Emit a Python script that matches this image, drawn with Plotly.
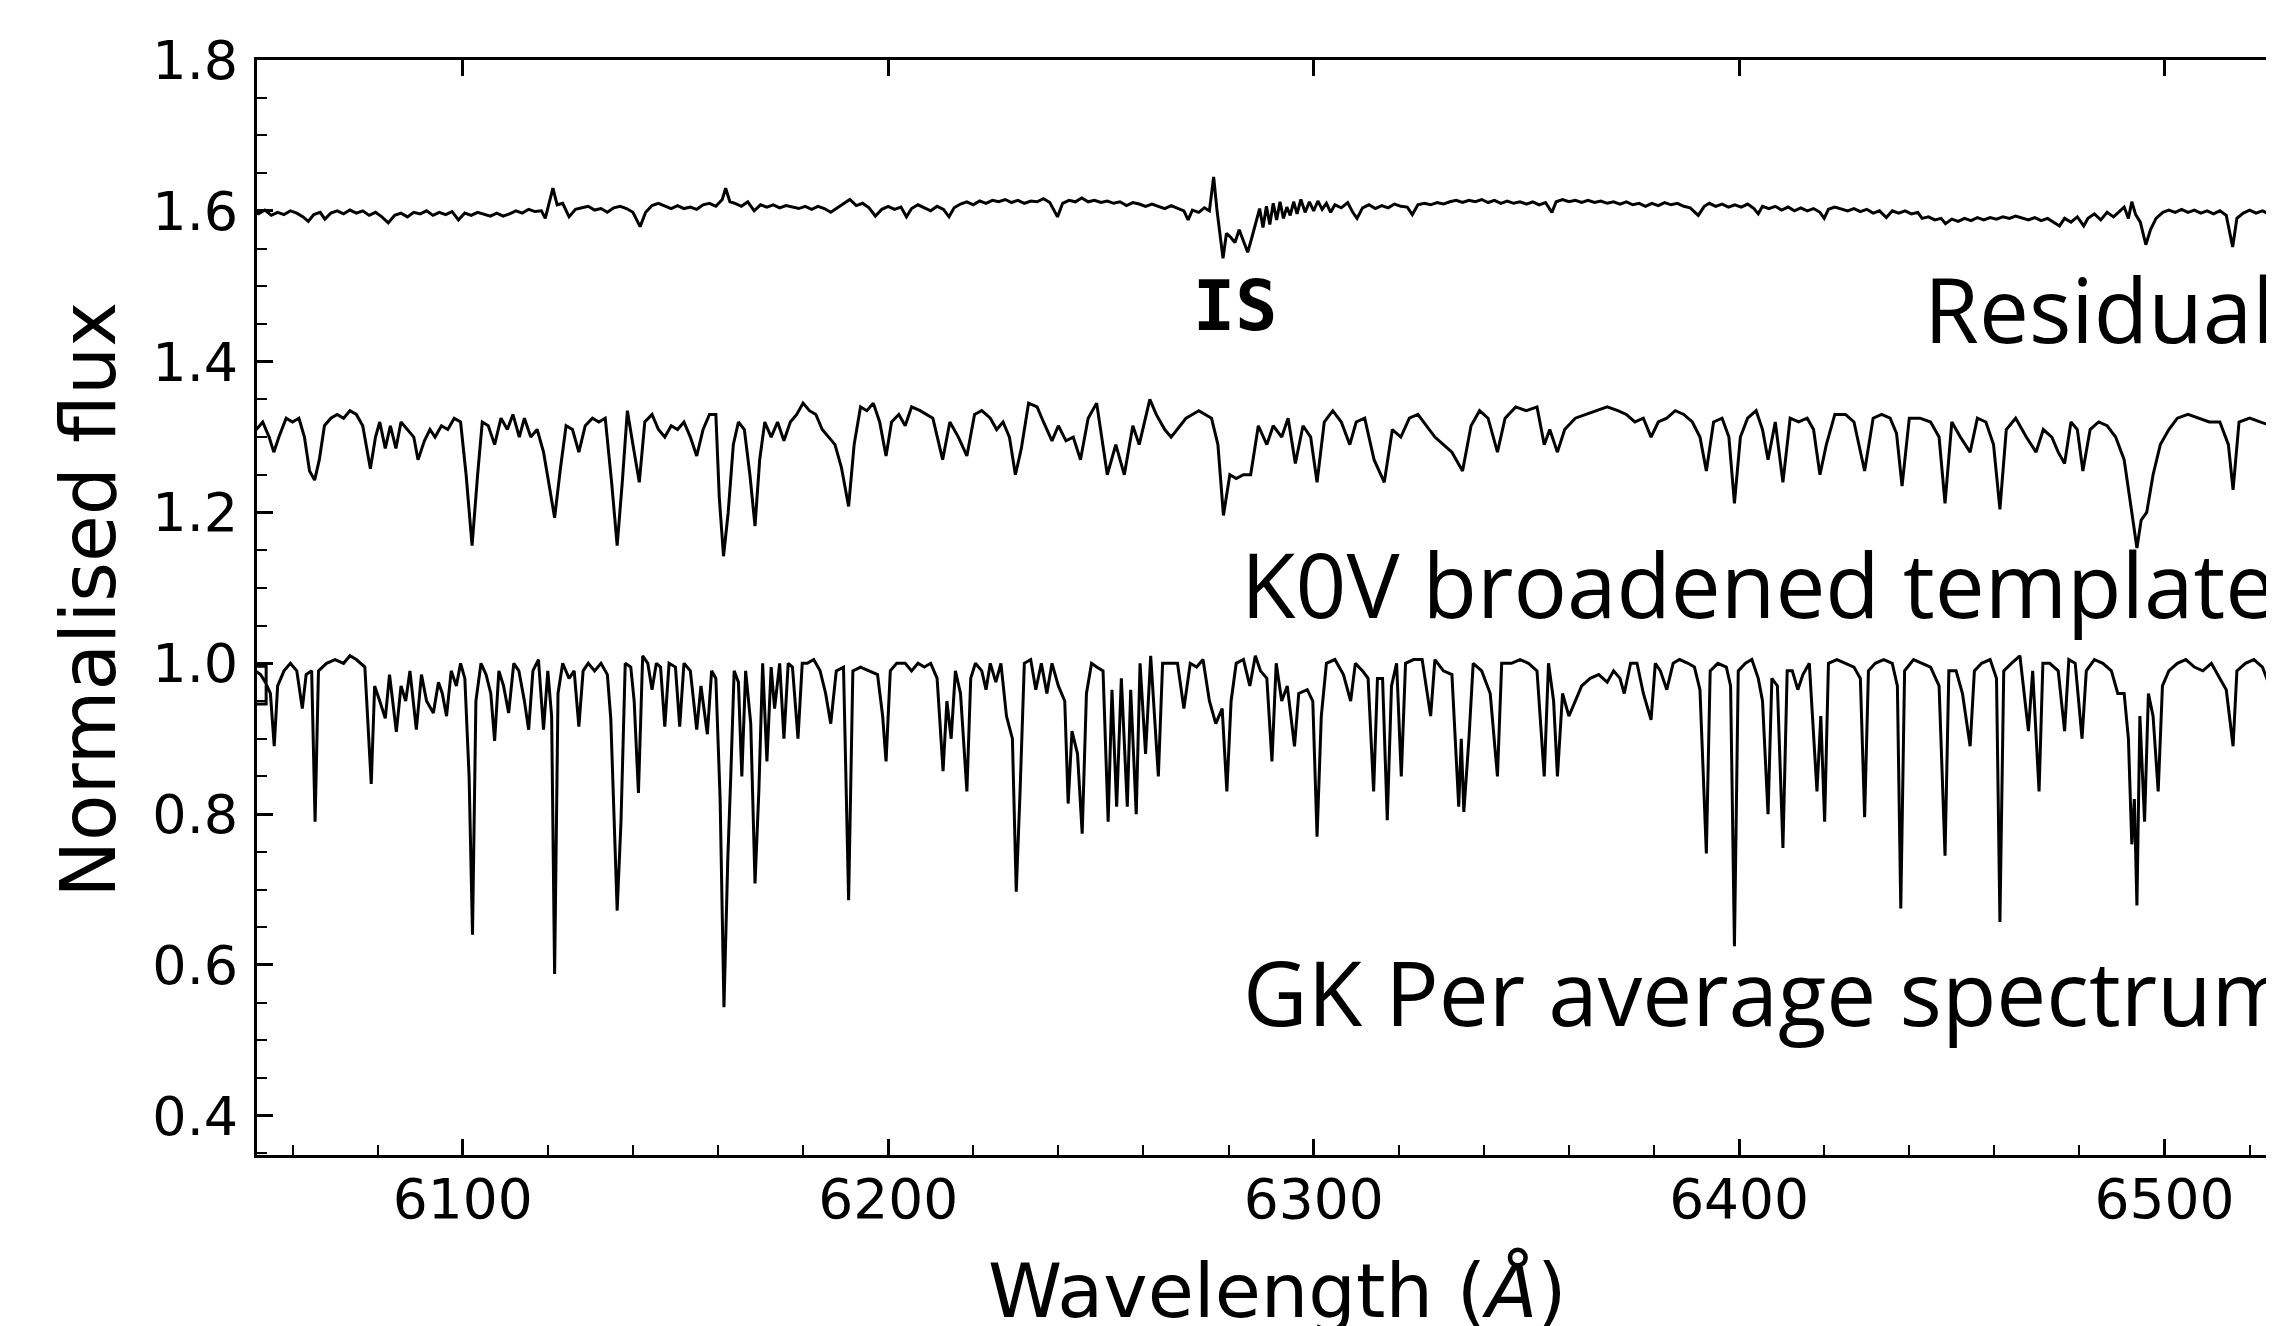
import plotly.graph_objects as go

# ---- data (wavelength in Angstrom, normalised flux) ----
residual_pts = [
    (6050.5, 1.600), (6052, 1.596), (6053.5, 1.601), (6055, 1.594), (6056.5, 1.598), (6058, 1.595),
    (6059.5, 1.600), (6061, 1.597), (6062.5, 1.592), (6063.7, 1.586), (6065, 1.595), (6066.5, 1.598),
    (6067.6, 1.589), (6069, 1.597), (6070.5, 1.600), (6072, 1.596), (6073.5, 1.601), (6075, 1.597),
    (6076.5, 1.600), (6078, 1.594), (6079.5, 1.598), (6081, 1.592), (6082.5, 1.584), (6084, 1.594),
    (6085.5, 1.597), (6087, 1.592), (6088.5, 1.598), (6090, 1.596), (6091.5, 1.600), (6093, 1.594),
    (6094.5, 1.598), (6096, 1.595), (6097.5, 1.599), (6099, 1.588), (6100.5, 1.597), (6102, 1.594),
    (6103.5, 1.598), (6105, 1.595), (6106.5, 1.593), (6108, 1.597), (6109.5, 1.593), (6111, 1.596),
    (6112.5, 1.600), (6114, 1.597), (6115.5, 1.602), (6117, 1.599), (6118.5, 1.600), (6119.4, 1.590),
    (6120.3, 1.610), (6121.2, 1.630), (6122.2, 1.608), (6123.5, 1.610), (6125, 1.592), (6126.5, 1.602),
    (6128, 1.604), (6129.5, 1.606), (6131, 1.601), (6132.5, 1.603), (6134, 1.598), (6135.5, 1.604),
    (6137, 1.606), (6138.5, 1.603), (6140, 1.598), (6141.7, 1.579), (6143, 1.598), (6144.5, 1.607),
    (6146, 1.610), (6147.5, 1.606), (6149, 1.603), (6150.5, 1.607), (6152, 1.603), (6153.5, 1.605),
    (6155, 1.602), (6156.5, 1.608), (6158, 1.610), (6159.5, 1.606), (6161, 1.615), (6161.8, 1.630),
    (6162.8, 1.612), (6164, 1.610), (6165.5, 1.606), (6167, 1.612), (6168.5, 1.600), (6170, 1.608),
    (6171.5, 1.605), (6173, 1.608), (6174.5, 1.604), (6176, 1.607), (6177.5, 1.605), (6179, 1.603),
    (6180.5, 1.606), (6182, 1.602), (6183.5, 1.606), (6185, 1.603), (6186.5, 1.598), (6188, 1.604),
    (6189.5, 1.609), (6191, 1.615), (6192.5, 1.607), (6194, 1.610), (6195.5, 1.604), (6197, 1.593),
    (6198.5, 1.602), (6200, 1.606), (6201.5, 1.602), (6203, 1.605), (6204.3, 1.592), (6205.5, 1.603),
    (6207, 1.608), (6208.5, 1.604), (6210, 1.600), (6211.5, 1.606), (6213, 1.602), (6214.3, 1.592),
    (6215.5, 1.604), (6217, 1.609), (6218.5, 1.612), (6220, 1.608), (6221.5, 1.613), (6223, 1.610),
    (6224.5, 1.614), (6226, 1.612), (6227.5, 1.615), (6229, 1.611), (6230.5, 1.614), (6232, 1.610),
    (6233.5, 1.613), (6235, 1.612), (6236.5, 1.616), (6238, 1.611), (6239.8, 1.592), (6241, 1.610),
    (6242.5, 1.614), (6244, 1.612), (6245.5, 1.617), (6247, 1.612), (6248.5, 1.614), (6250, 1.611),
    (6251.5, 1.613), (6253, 1.610), (6254.5, 1.612), (6256, 1.607), (6257.5, 1.611), (6259, 1.609),
    (6260.5, 1.606), (6262, 1.609), (6263.5, 1.606), (6265, 1.603), (6266.5, 1.607), (6268, 1.604),
    (6269.5, 1.600), (6270.5, 1.588), (6271.5, 1.601), (6273, 1.598), (6274.3, 1.604), (6275.5, 1.600),
    (6276.5, 1.645), (6277.3, 1.600), (6278.1, 1.560), (6278.7, 1.537), (6279.5, 1.570), (6280.5, 1.565),
    (6281.5, 1.558), (6282.5, 1.575), (6283.5, 1.560), (6284.5, 1.545), (6285.5, 1.565), (6286.5, 1.585),
    (6287.3, 1.603), (6288.1, 1.578), (6288.9, 1.606), (6289.7, 1.582), (6290.5, 1.610), (6291.3, 1.588),
    (6292.1, 1.612), (6292.9, 1.590), (6293.7, 1.605), (6294.5, 1.594), (6295.3, 1.612), (6296.1, 1.596),
    (6297, 1.615), (6298, 1.598), (6299, 1.612), (6300, 1.600), (6301, 1.613), (6302, 1.602),
    (6303, 1.610), (6304, 1.598), (6305, 1.608), (6306.5, 1.604), (6308, 1.611), (6309.2, 1.598),
    (6310.2, 1.590), (6311.5, 1.604), (6313, 1.608), (6314.5, 1.603), (6316, 1.607), (6317.5, 1.604),
    (6319, 1.609), (6320.5, 1.606), (6322, 1.605), (6323.2, 1.595), (6324.5, 1.608), (6326, 1.610),
    (6327.5, 1.608), (6329, 1.611), (6330.5, 1.609), (6332, 1.612), (6333.5, 1.614), (6335, 1.611),
    (6336.5, 1.614), (6338, 1.612), (6339.5, 1.615), (6341, 1.611), (6342.5, 1.614), (6344, 1.610),
    (6345.5, 1.613), (6347, 1.610), (6348.5, 1.612), (6350, 1.609), (6351.5, 1.612), (6353, 1.608),
    (6354.5, 1.611), (6356, 1.598), (6357, 1.612), (6358.5, 1.615), (6360, 1.612), (6361.5, 1.614),
    (6363, 1.611), (6364.5, 1.614), (6366, 1.611), (6367.5, 1.613), (6369, 1.610), (6370.5, 1.612),
    (6372, 1.609), (6373.5, 1.612), (6375, 1.608), (6376.5, 1.610), (6378, 1.606), (6379.5, 1.610),
    (6381, 1.607), (6382.5, 1.611), (6384, 1.608), (6385.5, 1.610), (6387, 1.606), (6388.5, 1.604),
    (6390.4, 1.594), (6391.8, 1.606), (6393, 1.610), (6394.5, 1.606), (6396, 1.609), (6397.5, 1.605),
    (6399, 1.608), (6400.5, 1.605), (6402, 1.609), (6403.5, 1.603), (6404.5, 1.596), (6405.5, 1.606),
    (6407, 1.603), (6408.5, 1.606), (6410, 1.601), (6411.5, 1.605), (6413, 1.600), (6414.5, 1.604),
    (6416, 1.600), (6417.5, 1.603), (6419, 1.598), (6420, 1.590), (6421, 1.602), (6422.5, 1.605),
    (6424, 1.603), (6425.5, 1.600), (6427, 1.603), (6428.5, 1.599), (6430, 1.602), (6431.5, 1.597),
    (6433, 1.600), (6434.6, 1.591), (6436, 1.600), (6437.5, 1.597), (6439, 1.600), (6440.5, 1.596),
    (6442, 1.598), (6443, 1.590), (6444.5, 1.592), (6446, 1.588), (6447.5, 1.590), (6448.5, 1.583),
    (6450, 1.589), (6451.5, 1.586), (6453, 1.590), (6454.5, 1.587), (6456, 1.591), (6457.5, 1.588),
    (6459, 1.591), (6460.5, 1.589), (6462, 1.592), (6463.5, 1.590), (6465, 1.593), (6466.5, 1.590),
    (6468, 1.588), (6469.5, 1.591), (6471, 1.587), (6472.5, 1.590), (6474, 1.585), (6475.3, 1.580),
    (6476.5, 1.590), (6478, 1.585), (6479.5, 1.592), (6481, 1.580), (6482, 1.590), (6483.5, 1.596),
    (6485, 1.588), (6486.5, 1.598), (6488, 1.592), (6489.5, 1.600), (6490.5, 1.605), (6491.5, 1.590),
    (6492.3, 1.612), (6493.2, 1.595), (6494.3, 1.585), (6495.6, 1.555), (6496.7, 1.575), (6498, 1.590),
    (6499.6, 1.598), (6501, 1.601), (6502.5, 1.598), (6504, 1.602), (6505.5, 1.598), (6507, 1.601),
    (6508.5, 1.597), (6510, 1.600), (6511.5, 1.596), (6513, 1.600), (6514.5, 1.594), (6516, 1.552),
    (6517, 1.590), (6518.5, 1.597), (6520, 1.601), (6521.5, 1.597), (6523, 1.600), (6524.5, 1.596),
    (6526, 1.599), (6527.5, 1.597),
]

template_pts = [
    (6050, 1.325), (6051.5, 1.31), (6053, 1.32), (6054.5, 1.30), (6055.6, 1.28), (6056.8, 1.30),
    (6058.5, 1.325), (6060, 1.32), (6061.5, 1.325), (6062.8, 1.30), (6064, 1.255), (6065.2, 1.243),
    (6066.3, 1.27), (6067.5, 1.315), (6069, 1.325), (6070.5, 1.33), (6072, 1.325), (6073.5, 1.335),
    (6075, 1.33), (6076.5, 1.315), (6078.3, 1.258), (6079.5, 1.30), (6080.5, 1.32), (6081.8, 1.285),
    (6083, 1.315), (6084.3, 1.285), (6085.5, 1.32), (6087, 1.31), (6088.5, 1.30), (6089.5, 1.27),
    (6091, 1.295), (6092.3, 1.31), (6093.5, 1.30), (6095, 1.315), (6096.5, 1.31), (6098, 1.325),
    (6099.5, 1.32), (6100.8, 1.25), (6102.2, 1.156), (6103.5, 1.25), (6104.6, 1.32), (6106, 1.315),
    (6107.5, 1.29), (6109, 1.325), (6110.5, 1.31), (6111.8, 1.33), (6113.3, 1.30), (6114.5, 1.325),
    (6116, 1.30), (6117.5, 1.31), (6119, 1.28), (6120.2, 1.24), (6121.6, 1.193), (6123, 1.26),
    (6124.3, 1.315), (6125.8, 1.31), (6127.3, 1.28), (6128.8, 1.315), (6130.5, 1.325), (6132, 1.32),
    (6133.5, 1.325), (6135, 1.24), (6136.3, 1.156), (6137.5, 1.24), (6138.7, 1.335), (6140, 1.29),
    (6141.5, 1.24), (6142.8, 1.32), (6144.5, 1.33), (6146, 1.31), (6147.5, 1.30), (6149, 1.315),
    (6150.5, 1.31), (6152, 1.32), (6153.5, 1.30), (6155, 1.275), (6156.5, 1.31), (6158, 1.33),
    (6159.5, 1.33), (6160.3, 1.22), (6161.3, 1.142), (6162.4, 1.20), (6163.6, 1.29), (6164.8, 1.32),
    (6166.2, 1.31), (6167.5, 1.25), (6168.7, 1.182), (6169.8, 1.27), (6171, 1.32), (6172.5, 1.30),
    (6174, 1.32), (6175.5, 1.295), (6177, 1.32), (6178.5, 1.33), (6180, 1.345), (6181.5, 1.335),
    (6183, 1.33), (6184.5, 1.31), (6186, 1.30), (6187.5, 1.29), (6189, 1.26), (6190.7, 1.208),
    (6192, 1.29), (6193.5, 1.34), (6195, 1.335), (6196.5, 1.345), (6198, 1.32), (6199.5, 1.275),
    (6200.8, 1.32), (6202.5, 1.33), (6204, 1.315), (6205.5, 1.34), (6207.5, 1.335), (6209, 1.33),
    (6210.5, 1.325), (6212.8, 1.27), (6214.5, 1.32), (6216.5, 1.30), (6218.5, 1.275), (6220.3, 1.33),
    (6222, 1.335), (6224, 1.325), (6225.5, 1.31), (6227, 1.32), (6228.5, 1.30), (6229.9, 1.25),
    (6231.3, 1.285), (6233, 1.345), (6235, 1.34), (6236.5, 1.32), (6238.5, 1.295), (6240, 1.315),
    (6241.8, 1.295), (6243.5, 1.30), (6245.2, 1.27), (6247, 1.325), (6249, 1.345), (6251.5, 1.25),
    (6253.5, 1.29), (6255.5, 1.25), (6257.5, 1.315), (6259, 1.29), (6261.5, 1.35), (6263, 1.33),
    (6265, 1.31), (6266.5, 1.30), (6268.5, 1.315), (6270, 1.325), (6271.5, 1.33), (6273, 1.335),
    (6274.5, 1.33), (6276, 1.325), (6277.5, 1.29), (6278.8, 1.196), (6280.3, 1.25), (6281.8, 1.245),
    (6283.5, 1.25), (6285.2, 1.25), (6287, 1.315), (6289, 1.29), (6290.5, 1.315), (6292.5, 1.30),
    (6294, 1.325), (6295.7, 1.265), (6297.5, 1.315), (6299.3, 1.30), (6300.8, 1.24), (6302.5, 1.32),
    (6304.5, 1.335), (6306.5, 1.32), (6308.5, 1.29), (6310, 1.32), (6312, 1.325), (6314.2, 1.27),
    (6316.6, 1.24), (6318.5, 1.31), (6320.5, 1.30), (6322.5, 1.325), (6324.5, 1.33), (6326.5, 1.315),
    (6328.5, 1.30), (6330.5, 1.29), (6332.5, 1.28), (6335, 1.255), (6337, 1.315), (6339, 1.335),
    (6341, 1.325), (6343.2, 1.28), (6345, 1.325), (6347.5, 1.34), (6350, 1.335), (6352.5, 1.34),
    (6354.2, 1.29), (6355.5, 1.31), (6357.3, 1.28), (6359, 1.31), (6361.5, 1.325), (6364, 1.33),
    (6366.5, 1.335), (6369, 1.34), (6371.5, 1.335), (6373.5, 1.33), (6375.5, 1.32), (6377.5, 1.325),
    (6379.3, 1.30), (6381, 1.32), (6383, 1.325), (6385, 1.335), (6387, 1.33), (6389, 1.32),
    (6390.8, 1.30), (6392.3, 1.255), (6394, 1.32), (6396, 1.325), (6397.6, 1.30), (6398.9, 1.212),
    (6400.3, 1.30), (6402, 1.325), (6404, 1.335), (6405.5, 1.31), (6406.8, 1.27), (6408.5, 1.32),
    (6410.3, 1.24), (6412, 1.325), (6414, 1.32), (6416, 1.325), (6417.5, 1.31), (6419, 1.25),
    (6420.5, 1.29), (6422.5, 1.33), (6425, 1.33), (6427, 1.32), (6429.5, 1.255), (6431.5, 1.325),
    (6433.5, 1.33), (6435.5, 1.325), (6437, 1.305), (6438.3, 1.235), (6440, 1.325), (6442.5, 1.325),
    (6445, 1.32), (6447, 1.30), (6448.4, 1.212), (6450, 1.32), (6452, 1.30), (6454.3, 1.28),
    (6456, 1.325), (6458, 1.32), (6459.8, 1.29), (6461.3, 1.204), (6462.8, 1.31), (6465, 1.325),
    (6467.5, 1.30), (6469.8, 1.28), (6471.5, 1.31), (6473.5, 1.30), (6475, 1.28), (6476.5, 1.265),
    (6478, 1.32), (6479.5, 1.31), (6480.8, 1.255), (6482.5, 1.31), (6484.5, 1.32), (6486.5, 1.315),
    (6488.5, 1.30), (6490.5, 1.27), (6492.3, 1.20), (6493.5, 1.153), (6494.5, 1.19), (6495.8, 1.20),
    (6497.3, 1.25), (6499, 1.29), (6501, 1.31), (6503, 1.325), (6505.5, 1.33), (6508, 1.325),
    (6510.5, 1.32), (6513, 1.32), (6515, 1.29), (6516.1, 1.23), (6517.5, 1.32), (6520, 1.325),
    (6522.5, 1.32), (6525, 1.315), (6527.5, 1.32),
]

gkper_pts = [
    (6050.6, 0.996), (6053.8, 0.996), (6053.8, 0.946), (6051.2, 0.946), (6051.2, 0.99), (6052.5, 0.985),
    (6053.6, 0.975), (6054.8, 0.96), (6055.7, 0.89), (6056.5, 0.97), (6058.0, 0.99), (6059.5, 1.0),
    (6061.0, 0.99), (6062.3, 0.94), (6063.2, 0.985), (6064.5, 0.99), (6065.3, 0.79), (6066.1, 0.99),
    (6068.0, 1.0), (6070.0, 1.005), (6072.0, 1.0), (6073.5, 1.01), (6075.0, 1.005), (6077.0, 0.995),
    (6078.5, 0.84), (6079.3, 0.97), (6080.5, 0.95), (6081.8, 0.927), (6082.8, 0.985), (6084.4, 0.909),
    (6085.5, 0.97), (6086.6, 0.95), (6087.6, 0.99), (6089.1, 0.912), (6090.3, 0.985), (6091.5, 0.95),
    (6093.1, 0.934), (6094.3, 0.975), (6095.2, 0.96), (6096.2, 0.93), (6097.3, 0.99), (6098.5, 0.97),
    (6099.5, 1.0), (6100.5, 0.98), (6101.5, 0.85), (6102.3, 0.64), (6103.1, 0.95), (6104.3, 1.0),
    (6105.5, 0.985), (6106.6, 0.96), (6107.5, 0.897), (6108.5, 0.99), (6109.6, 0.97), (6110.8, 0.934),
    (6112.0, 1.0), (6113.2, 0.99), (6114.5, 0.95), (6115.5, 0.912), (6116.5, 0.99), (6117.8, 1.005),
    (6119.0, 0.912), (6120.0, 0.99), (6120.9, 0.93), (6121.6, 0.588), (6122.4, 0.96), (6123.5, 1.0),
    (6125.0, 0.98), (6126.2, 0.99), (6127.3, 0.916), (6128.3, 0.99), (6129.5, 1.0), (6131.0, 0.99),
    (6132.5, 1.0), (6134.0, 0.985), (6134.8, 0.927), (6135.5, 0.80), (6136.3, 0.672), (6137.2, 0.79),
    (6138.2, 1.0), (6139.5, 0.995), (6140.3, 0.95), (6141.3, 0.828), (6142.3, 1.01), (6143.5, 1.0),
    (6144.5, 0.965), (6145.5, 1.0), (6146.5, 0.995), (6147.5, 0.916), (6148.5, 1.0), (6150.0, 0.995),
    (6151.0, 0.916), (6152.0, 1.0), (6153.5, 0.99), (6155.0, 0.912), (6156.0, 0.97), (6157.5, 0.906),
    (6158.5, 0.99), (6159.5, 0.98), (6160.5, 0.82), (6161.4, 0.544), (6162.3, 0.74), (6163.0, 0.85),
    (6163.8, 0.99), (6164.8, 0.975), (6165.6, 0.85), (6166.5, 0.99), (6167.7, 0.92), (6168.7, 0.708),
    (6169.6, 0.83), (6170.5, 1.0), (6171.5, 0.87), (6172.5, 0.995), (6173.3, 0.94), (6174.5, 1.0),
    (6175.5, 0.90), (6176.5, 1.0), (6177.5, 0.995), (6178.8, 0.90), (6179.8, 1.0), (6181.0, 1.0),
    (6182.5, 1.005), (6184.0, 0.99), (6185.3, 0.96), (6186.5, 0.92), (6187.8, 0.99), (6189.5, 0.995),
    (6190.7, 0.686), (6191.7, 0.99), (6193.5, 0.995), (6195.5, 0.99), (6197.5, 0.985), (6198.7, 0.93),
    (6199.5, 0.87), (6200.5, 0.99), (6202.0, 1.0), (6204.0, 1.0), (6205.5, 0.99), (6207.0, 1.0),
    (6208.5, 0.995), (6210.0, 1.0), (6211.5, 0.98), (6212.9, 0.857), (6213.8, 0.95), (6214.8, 0.90),
    (6215.8, 0.99), (6217.0, 0.96), (6218.5, 0.83), (6219.4, 0.98), (6220.5, 1.0), (6222.0, 0.99),
    (6223.0, 0.965), (6224.0, 1.0), (6225.3, 0.975), (6226.5, 1.0), (6227.8, 0.93), (6229.2, 0.90),
    (6230.1, 0.697), (6231.0, 0.83), (6232.0, 1.0), (6233.5, 1.005), (6234.7, 0.965), (6236.0, 1.0),
    (6237.3, 0.96), (6238.5, 1.0), (6240.0, 0.97), (6241.5, 0.95), (6242.3, 0.814), (6243.2, 0.91),
    (6244.5, 0.88), (6245.6, 0.774), (6246.6, 0.96), (6247.8, 1.0), (6249.0, 0.995), (6250.5, 0.99),
    (6251.7, 0.79), (6252.6, 0.965), (6253.7, 0.81), (6254.8, 0.98), (6256.2, 0.81), (6257.0, 0.965),
    (6258.3, 0.80), (6259.2, 1.0), (6260.5, 0.88), (6261.7, 1.01), (6263.5, 0.85), (6264.5, 1.0),
    (6266.0, 1.0), (6268.0, 1.0), (6269.5, 0.94), (6271.0, 1.0), (6272.5, 0.995), (6274.0, 1.005),
    (6275.5, 0.95), (6277.0, 0.92), (6278.5, 0.94), (6279.6, 0.83), (6280.6, 0.95), (6281.8, 1.0),
    (6283.5, 1.005), (6285.0, 0.97), (6286.3, 1.01), (6287.5, 0.99), (6289.0, 0.98), (6290.2, 0.87),
    (6291.2, 1.0), (6292.5, 0.95), (6293.8, 0.97), (6295.5, 0.89), (6296.5, 0.96), (6298.5, 0.965),
    (6299.8, 0.95), (6300.8, 0.77), (6301.8, 0.93), (6303.0, 1.0), (6305.0, 1.005), (6307.0, 0.985),
    (6308.7, 0.95), (6309.8, 1.0), (6311.5, 0.99), (6312.8, 0.98), (6314.1, 0.83), (6315.0, 0.98),
    (6316.2, 0.98), (6317.3, 0.792), (6318.3, 0.97), (6319.5, 1.0), (6320.6, 0.85), (6321.6, 1.0),
    (6323.5, 1.005), (6325.5, 1.005), (6327.5, 0.93), (6328.5, 1.005), (6330.5, 0.99), (6332.5, 0.985),
    (6334.1, 0.81), (6334.7, 0.90), (6335.3, 0.803), (6336.5, 0.90), (6337.5, 1.0), (6339.5, 0.99),
    (6341.5, 0.96), (6343.2, 0.85), (6344.2, 1.0), (6346.5, 1.0), (6348.5, 1.005), (6350.5, 1.0),
    (6352.5, 0.99), (6354.2, 0.85), (6355.2, 1.0), (6356.4, 0.95), (6357.3, 0.85), (6358.5, 0.96),
    (6360.0, 0.93), (6361.5, 0.95), (6363.0, 0.97), (6365.0, 0.98), (6367.0, 0.985), (6369.0, 0.975),
    (6370.5, 0.99), (6372.0, 0.98), (6373.0, 0.96), (6374.5, 1.0), (6376.0, 1.0), (6377.5, 0.96),
    (6379.3, 0.925), (6380.3, 1.0), (6381.5, 0.99), (6383.0, 0.965), (6384.5, 1.0), (6386.0, 1.005),
    (6388.0, 1.0), (6389.5, 0.995), (6390.8, 0.965), (6392.3, 0.748), (6393.2, 0.99), (6395.0, 1.0),
    (6397.0, 0.995), (6398.0, 0.97), (6398.9, 0.625), (6399.8, 0.99), (6401.5, 1.0), (6403.0, 1.005),
    (6404.5, 0.98), (6405.5, 0.95), (6406.8, 0.80), (6407.7, 0.98), (6409.0, 0.97), (6410.3, 0.755),
    (6411.3, 0.99), (6412.5, 0.99), (6413.8, 0.965), (6415.0, 0.985), (6416.5, 1.0), (6418.3, 0.83),
    (6419.2, 0.93), (6420.1, 0.79), (6421.0, 1.0), (6423.0, 1.005), (6425.0, 1.0), (6427.0, 0.995),
    (6428.5, 0.98), (6429.5, 0.796), (6430.4, 0.99), (6432.0, 1.0), (6434.0, 1.005), (6436.0, 1.0),
    (6437.2, 0.97), (6438.0, 0.675), (6438.9, 0.99), (6441.0, 1.005), (6443.0, 1.0), (6445.0, 0.995),
    (6447.0, 0.97), (6448.4, 0.745), (6449.3, 0.99), (6451.0, 0.99), (6452.5, 0.96), (6454.3, 0.89),
    (6455.3, 0.99), (6457.0, 1.0), (6459.0, 1.005), (6460.5, 0.98), (6461.3, 0.657), (6462.2, 0.99),
    (6464.0, 1.0), (6466.0, 1.01), (6468.0, 0.91), (6469.0, 0.99), (6470.5, 0.83), (6471.4, 1.0),
    (6473.0, 1.0), (6475.0, 0.99), (6476.5, 0.91), (6477.5, 1.005), (6479.0, 1.0), (6480.6, 0.90),
    (6481.6, 0.99), (6483.5, 1.005), (6485.5, 1.0), (6487.5, 0.99), (6489.0, 0.96), (6490.5, 0.96),
    (6491.5, 0.90), (6492.3, 0.76), (6492.9, 0.82), (6493.5, 0.679), (6494.2, 0.93), (6495.3, 0.79),
    (6496.2, 0.96), (6497.3, 0.93), (6498.5, 0.83), (6499.5, 0.97), (6501.0, 0.99), (6503.0, 1.0),
    (6505.0, 1.005), (6507.0, 0.995), (6509.0, 0.99), (6511.0, 1.0), (6513.0, 0.98), (6514.5, 0.965),
    (6516.1, 0.89), (6517.0, 0.99), (6519.0, 1.0), (6521.0, 1.005), (6523.0, 0.995), (6525.0, 0.965),
    (6527.5, 0.99),
]

x_ticks = [6100, 6200, 6300, 6400, 6500]
y_ticks = [0.4, 0.6, 0.8, 1.0, 1.2, 1.4, 1.6, 1.8]

labels = {
    "is": "IS",
    "residual": "Residual",
    "template": "K0V broadened template",
    "gkper": "GK Per average spectrum",
    "xtitle": "Wavelength (<i>Å</i>)",
    "ytitle": "Normalised flux",
}

# ---- figure ----
X_RANGE = [6051.65, 6527.6]
Y_RANGE = [0.348, 1.8]
TICK_FONT = dict(family="DejaVu Sans", size=54, color="black")
LINE = dict(color="black", width=3)

fig = go.Figure()
for pts in (residual_pts, template_pts, gkper_pts):
    fig.add_trace(go.Scatter(
        x=[p[0] for p in pts], y=[p[1] for p in pts],
        mode="lines", line=LINE, showlegend=False, hoverinfo="skip",
    ))
# empty trace so the top (mirror) axis subplot exists
fig.add_trace(go.Scatter(x=[], y=[], xaxis="x2", yaxis="y", showlegend=False))

fig.update_layout(
    width=2274, height=1326,
    margin=dict(l=249, r=0, t=52, b=179),
    paper_bgcolor="white", plot_bgcolor="white",
    showlegend=False,
    xaxis=dict(
        range=X_RANGE, showgrid=False, zeroline=False,
        showline=True, linecolor="black", linewidth=3,
        ticks="inside", ticklen=16, tickwidth=2.5, tickcolor="black",
        tickmode="array", tickvals=x_ticks, ticktext=[str(v) for v in x_ticks],
        tickfont=dict(family="DejaVu Sans", size=55, color="black"), ticklabelstandoff=-6,
        minor=dict(ticks="inside", ticklen=10, tickwidth=2, tickcolor="black",
                   dtick=20, tick0=6000, showgrid=False),
    ),
    xaxis2=dict(
        range=X_RANGE, overlaying="x", side="top", anchor="y",
        showgrid=False, zeroline=False, showticklabels=False,
        showline=True, linecolor="black", linewidth=3,
        ticks="inside", ticklen=16, tickwidth=2.5, tickcolor="black",
        tickmode="array", tickvals=x_ticks,
    ),
    yaxis=dict(
        range=Y_RANGE, showgrid=False, zeroline=False,
        showline=True, linecolor="black", linewidth=3,
        ticks="inside", ticklen=16, tickwidth=2.5, tickcolor="black",
        tickmode="array", tickvals=y_ticks, ticktext=[f"{v:.1f}" for v in y_ticks],
        tickfont=TICK_FONT, ticklabelstandoff=5,
        minor=dict(ticks="inside", ticklen=10, tickwidth=2, tickcolor="black",
                   dtick=0.05, tick0=0.4, showgrid=False),
    ),
)

LABEL_FONT = dict(family="Open Sans", size=89, color="black")
fig.add_annotation(x=6281.6, y=1.474, xref="x", yref="y", text=labels["is"],
                   showarrow=False, xanchor="center", yanchor="middle",
                   font=dict(family="DejaVu Sans Mono", size=70, color="black", weight="bold"))
fig.add_annotation(x=6443.0, y=1.470, xref="x", yref="y", text=labels["residual"],
                   showarrow=False, xanchor="left", yanchor="middle", font=LABEL_FONT)
fig.add_annotation(x=6282.5, y=1.106, xref="x", yref="y", text=labels["template"],
                   showarrow=False, xanchor="left", yanchor="middle", font=LABEL_FONT)
fig.add_annotation(x=6283.0, y=0.5645, xref="x", yref="y", text=labels["gkper"],
                   showarrow=False, xanchor="left", yanchor="middle", font=LABEL_FONT)
fig.add_annotation(x=6291.4, y=-0.1245, xref="x", yref="paper", text=labels["xtitle"],
                   showarrow=False, xanchor="center", yanchor="middle",
                   font=dict(family="DejaVu Sans", size=75, color="black"))
fig.add_annotation(x=-0.083, y=0.507, xref="paper", yref="paper", text=labels["ytitle"],
                   textangle=-90, showarrow=False, xanchor="center", yanchor="middle",
                   font=dict(family="DejaVu Sans", size=76, color="black"))

fig.write_html("out.html")
